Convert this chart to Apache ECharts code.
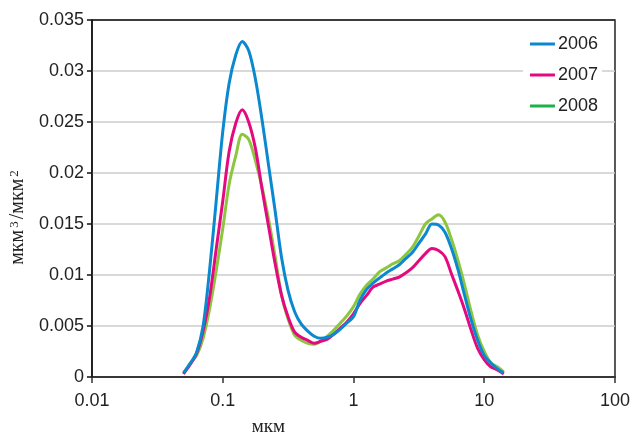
<!DOCTYPE html>
<html>
<head>
<meta charset="utf-8">
<script src="https://cdn.jsdelivr.net/npm/echarts@6/dist/echarts.min.js"></script>
<style>
  html, body { margin: 0; padding: 0; background: #fff; }
  #chart { width: 633px; height: 442px; }
</style>
</head>
<body>
<div id="chart"></div>
<script>
// particle size, мкм (log spaced, 20 per decade)
var sizes = [0.0501, 0.0562, 0.0631, 0.0708, 0.0794, 0.0891, 0.1, 0.112, 0.126, 0.141,
    0.158, 0.178, 0.2, 0.224, 0.251, 0.282, 0.316, 0.355, 0.398, 0.447,
    0.501, 0.562, 0.631, 0.708, 0.794, 0.891, 1, 1.12, 1.26, 1.41,
    1.58, 1.78, 2, 2.24, 2.51, 2.82, 3.16, 3.55, 3.98, 4.47,
    5.01, 5.62, 6.31, 7.08, 7.94, 8.91, 10, 11.2, 12.6, 14.1];

var v2006 = [0.0004, 0.0013, 0.0024, 0.0050, 0.0105, 0.0172, 0.0240, 0.0288, 0.0316, 0.0329,
    0.0320, 0.0292, 0.0252, 0.0208, 0.0164, 0.0117, 0.0085, 0.0064, 0.0052, 0.0045,
    0.0040, 0.0038, 0.0039, 0.0042, 0.0047, 0.0053, 0.0059, 0.0075, 0.0086, 0.0092,
    0.0097, 0.0102, 0.0106, 0.0110, 0.0116, 0.0122, 0.0131, 0.0140, 0.0150, 0.0149,
    0.0142, 0.0126, 0.0105, 0.0080, 0.0056, 0.0036, 0.0021, 0.0014, 0.0008, 0.0004];

var v2007 = [0.0003, 0.0012, 0.0023, 0.0045, 0.0078, 0.0125, 0.0172, 0.0221, 0.0249, 0.0262,
    0.0250, 0.0224, 0.0184, 0.0148, 0.0112, 0.0080, 0.0059, 0.0044, 0.0039, 0.0036,
    0.0033, 0.0035, 0.0037, 0.0042, 0.0048, 0.0054, 0.0062, 0.0072, 0.0080, 0.0088,
    0.0091, 0.0094, 0.0096, 0.0098, 0.0102, 0.0107, 0.0114, 0.0121, 0.0126, 0.0124,
    0.0118, 0.0101, 0.0084, 0.0066, 0.0046, 0.0028, 0.0017, 0.0010, 0.0007, 0.0003];

var v2008 = [0.0003, 0.0013, 0.0021, 0.0038, 0.0067, 0.0104, 0.0145, 0.0189, 0.0217, 0.0238,
    0.0233, 0.0212, 0.0186, 0.0155, 0.0119, 0.0080, 0.0057, 0.0041, 0.0036, 0.0033,
    0.0032, 0.0035, 0.0040, 0.0046, 0.0053, 0.0060, 0.0069, 0.0081, 0.0090, 0.0096,
    0.0103, 0.0107, 0.0111, 0.0114, 0.0120, 0.0127, 0.0138, 0.0150, 0.0155, 0.0159,
    0.0152, 0.0135, 0.0114, 0.0090, 0.0064, 0.0041, 0.0025, 0.0014, 0.0010, 0.0005];

var years = ['2006', '2007', '2008'];
var lineColors = ['#0a88d0', '#e5097f', '#8cc63f'];
var legendColors = ['#0a88d0', '#e5097f', '#1db14b'];

function pairs(vals) {
    return sizes.map(function (s, i) { return [s, vals[i]]; });
}

var chart = echarts.init(document.getElementById('chart'));

// gridlines light grey, the top one is the dark frame edge
var splitColors = ['#cccccc', '#cccccc', '#cccccc', '#cccccc', '#cccccc', '#cccccc', '#cccccc', '#333333'];

var option = {
    animation: false,
    backgroundColor: '#fff',
    textStyle: { fontFamily: 'Liberation Sans' },
    grid: {
        left: 88,
        right: 17,
        top: 20,
        bottom: 59,
        show: true,
        borderColor: '#222',
        borderWidth: 1.5
    },
    legend: {
        orient: 'vertical',
        right: 31,
        top: 29,
        padding: [5, 4, 5, 7],
        backgroundColor: '#fff',
        icon: 'rect',
        itemWidth: 25,
        itemHeight: 3,
        itemGap: 11,
        textStyle: { fontSize: 18, color: '#222', lineHeight: 20, padding: [0, 0, 0, -2] },
        data: years.map(function (y, i) {
            return { name: y, itemStyle: { color: legendColors[i] } };
        })
    },
    xAxis: {
        type: 'log',
        logBase: 10,
        min: 0.01,
        max: 100,
        name: 'мкм',
        nameLocation: 'middle',
        nameGap: 41,
        nameTextStyle: {
            fontFamily: 'Liberation Serif', fontSize: 19, color: '#222',
            padding: [0, 170, 0, 0]
        },
        axisLine: { lineStyle: { color: '#111', width: 1.5 } },
        axisTick: { show: true, length: 6, lineStyle: { color: '#333', width: 1.5 } },
        minorTick: { show: false },
        splitLine: { show: false },
        axisLabel: {
            fontSize: 18,
            color: '#222',
            margin: 15,
            formatter: function (v) { return String(parseFloat(v.toPrecision(6))); }
        }
    },
    yAxis: {
        type: 'value',
        min: 0,
        max: 0.035,
        interval: 0.005,
        name: 'мкм{s|3}/мкм{s|2}',
        nameLocation: 'middle',
        nameGap: 52,
        nameTextStyle: {
            fontFamily: 'Liberation Serif', fontSize: 20, color: '#222',
            lineHeight: 20,
            padding: [0, 36, 0, 0],
            rich: {
                s: { fontFamily: 'Liberation Serif', fontSize: 13, lineHeight: 12, verticalAlign: 'top', padding: [0, 2, 0, 2], color: '#222' }
            }
        },
        axisLine: { show: true, lineStyle: { color: '#111', width: 1.5 } },
        axisTick: { show: true, length: 5, lineStyle: { color: '#111', width: 1.5 } },
        splitLine: { lineStyle: { color: splitColors, width: 1.5 } },
        axisLabel: {
            fontSize: 18,
            color: '#222',
            margin: 8,
            formatter: function (v) { return String(parseFloat(v.toFixed(3))); }
        }
    },
    series: [v2006, v2007, v2008].map(function (vals, i) {
        return {
            name: years[i],
            type: 'line',
            data: pairs(vals),
            smooth: 0.3,
            showSymbol: false,
            symbol: 'none',
            z: 3 - i,
            lineStyle: { color: lineColors[i], width: 3 },
            itemStyle: { color: lineColors[i] }
        };
    })
};

chart.setOption(option);
</script>
</body>
</html>
